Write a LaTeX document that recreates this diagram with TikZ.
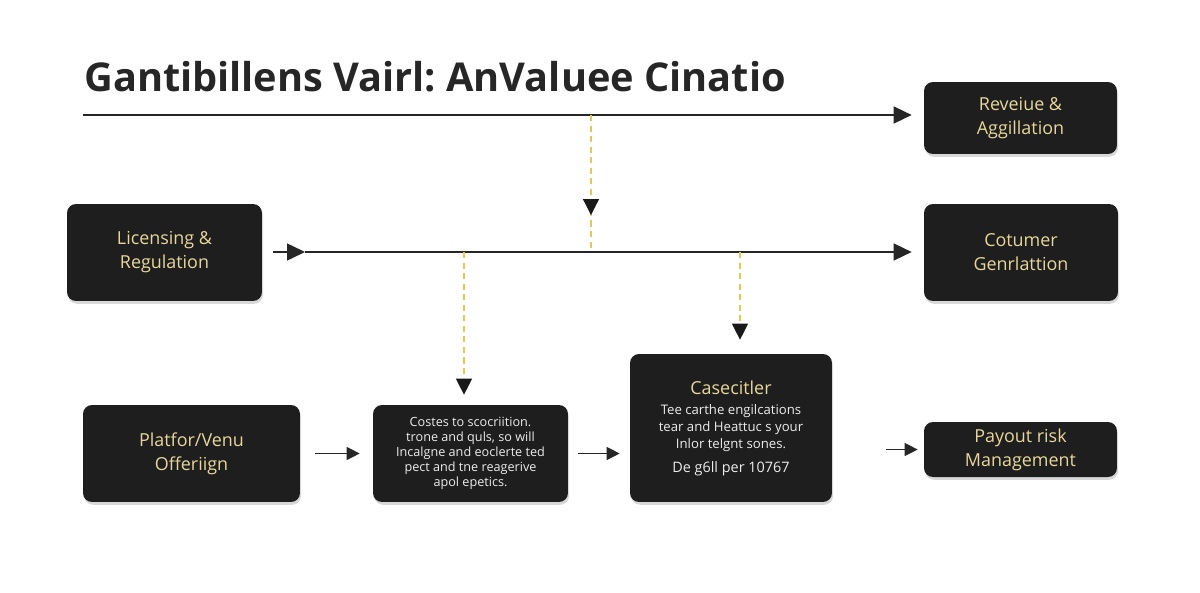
\documentclass[tikz,border=0pt]{standalone}
\usepackage{fontspec}
\setmainfont{Open Sans}
\usepackage{xcolor}
\usepackage{tikz}
\usetikzlibrary{arrows.meta, shadows, decorations.markings, calc}
\definecolor{boxfill}{HTML}{1E1E1E}
\definecolor{goldtext}{HTML}{E8D79C}
\definecolor{bodytext}{HTML}{ECECEC}
\definecolor{dashgold}{HTML}{E9C84E}
\definecolor{titleink}{HTML}{262626}
\newcommand\caseline[1]{{\color{bodytext}\fontsize{7.5}{8.4}\selectfont #1}}
\tikzset{
  darkbox/.style = {
    fill = boxfill, draw = none, rounded corners = 0.18cm,
    text = goldtext, align = center, inner sep = 0pt,
    font = \fontsize{10.2}{13.6}\selectfont,
    drop shadow = {opacity = 0.3, shadow xshift = 0.6pt, shadow yshift = -1.6pt}
  },
  bodyfont/.style = {font = \fontsize{7.2}{8.5}\selectfont},
  flowline/.style = {line width = 0.85pt, draw = black!85,
    -{Triangle[length = 0.36cm, width = 0.34cm]}},
  smallflow/.style = {line width = 0.6pt, draw = black!85,
    -{Triangle[length = 0.26cm, width = 0.26cm]}},
  guideline/.style = {line width = 0.7pt, draw = dashgold,
    dash pattern = on 3.5pt off 2.5pt},
  guidetip/.style = {-{Triangle[length = 0.32cm, width = 0.32cm, black!90]}}
}
\begin{document}
\begin{tikzpicture}[x = 0.02cm, y = -0.02cm]
  \useasboundingbox[fill = white] (0,0) rectangle (1200,592);

  \node [anchor = base west, inner sep = 0pt, text = titleink] (title) at (84,91)
    {\frenchspacing\bfseries\fontsize{22.6}{24}\selectfont Gantibillens Vairl: AnValuee Cinatio};

  \node [darkbox, minimum width = 3.86cm, minimum height = 1.44cm] (rev) at (1020.5,118)
    {Reveiue \&\\Aggillation};
  \node [darkbox, minimum width = 3.9cm, minimum height = 1.94cm] (lic) at (164.5,252.5)
    {Licensing \&\\Regulation};
  \node [darkbox, minimum width = 3.88cm, minimum height = 1.94cm] (cust) at (1021,252.5)
    {Cotumer\\Genrlattion};
  \node [darkbox, minimum width = 4.34cm, minimum height = 1.94cm] (plat) at (191.5,453.5)
    {Platfor/Venu\\Offeriign};
  \node [darkbox, minimum width = 3.9cm, minimum height = 1.94cm, text = bodytext, bodyfont] (cost) at (470.5,453.5)
    {Costes to scocriition.\\trone and quls, so will\\Incalgne and eoclerte ted\\pect and tne reagerive\\apol epetics.};
  \node [darkbox, minimum width = 4.04cm, minimum height = 2.96cm] (case) at (731,428)
    {Casecitler\\[-2pt]
     \caseline{Tee carthe engilcations}\\[-4pt]
     \caseline{tear and Heattuc s your}\\[-4pt]
     \caseline{Inlor telgnt sones.}\\[0pt]
     {\color{bodytext}\fontsize{8.2}{9}\selectfont De g6ll per 10767}};
  \node [darkbox, minimum width = 3.86cm, minimum height = 1.1cm] (pay) at (1020.5,449.5)
    {Payout risk\\Management};

  \coordinate (topstart) at (83,115);
  \coordinate (topjoin) at (591,115);
  \coordinate (midjoin) at (591,252);
  \coordinate (midtip) at (305,252);
  \coordinate (leftdrop) at (464,252);
  \coordinate (rightdrop) at (740,252);

  \draw [flowline, shorten >= 0.24cm] (topstart) -- (topstart -| rev.west);
  \draw [flowline, shorten <= 0.22cm] (lic.east |- midtip) -- (midtip);
  \draw [flowline, shorten >= 0.24cm] (midtip) -- (midtip -| cust.west);

  \draw [guideline, postaction = {decorate}, decoration = {markings,
      mark = at position 0.73 with {\arrow{Triangle[length = 0.32cm, width = 0.32cm, black!90]}}}]
    (topjoin) -- (midjoin);
  \draw [guideline, guidetip, shorten >= 0.2cm] (leftdrop) -- (leftdrop |- cost.north);
  \draw [guideline, guidetip, shorten >= 0.28cm] (rightdrop) -- (rightdrop |- case.north);

  \draw [smallflow, shorten <= 0.3cm, shorten >= 0.26cm] (plat.east |- cost) -- (cost.west);
  \draw [smallflow, shorten <= 0.2cm, shorten >= 0.2cm] (cost.east) -- (cost.east -| case.west);
  \draw [smallflow, shorten <= 1.08cm, shorten >= 0.12cm] (case.east |- pay) -- (pay.west);
\end{tikzpicture}
\end{document}
